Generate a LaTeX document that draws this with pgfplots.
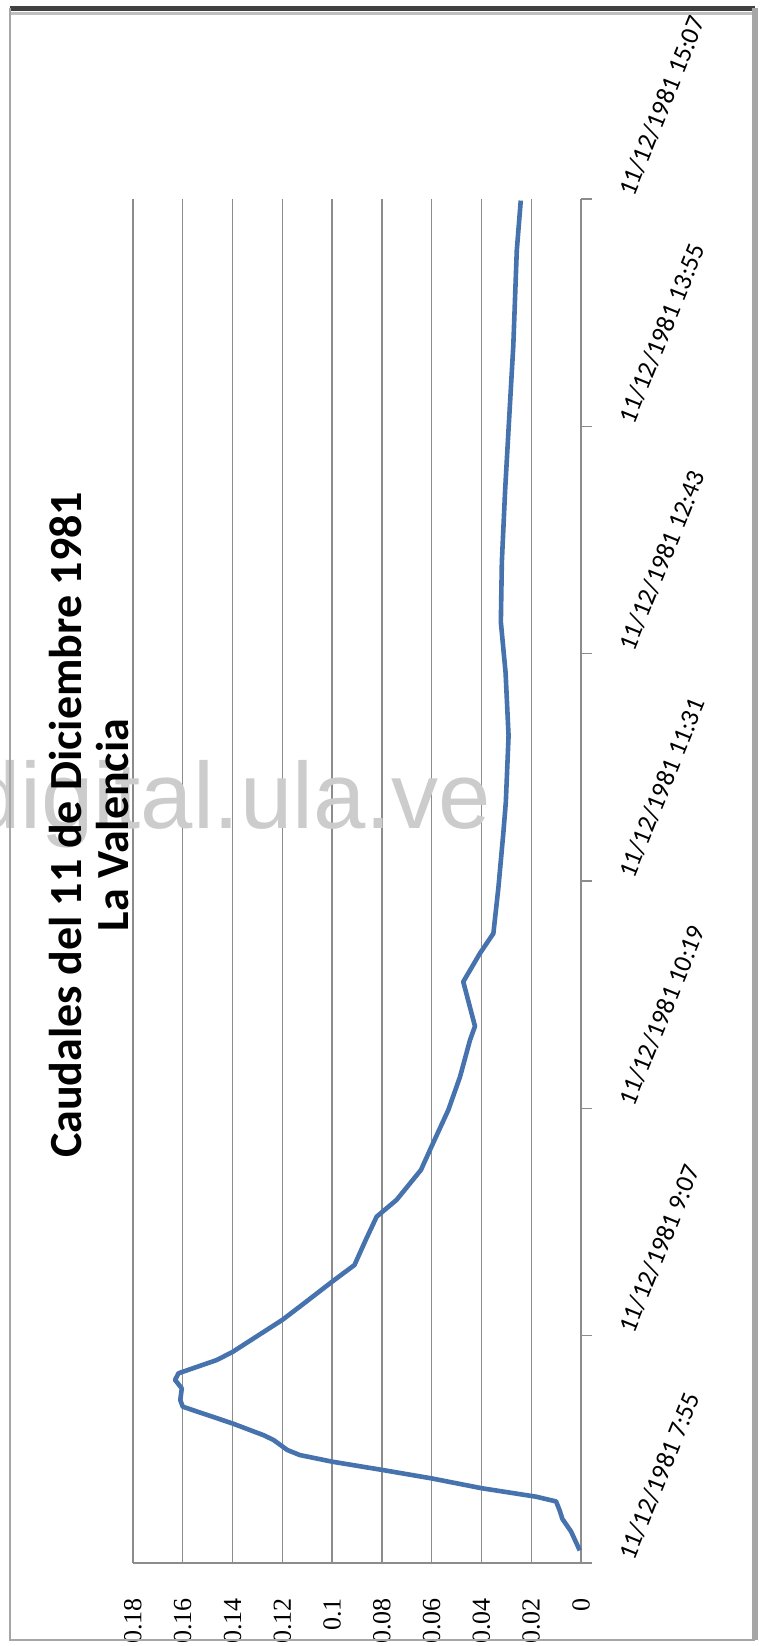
\documentclass[border=0pt]{standalone}
\usepackage{fontspec}
\setmainfont{Carlito}
\newfontfamily\tickserif{Liberation Serif}
\newfontfamily\wmfont{Liberation Sans}
\usepackage{pgfplots}
\pgfplotsset{compat=1.18}
\definecolor{excelblue}{HTML}{4672AE}
\definecolor{gridgray}{HTML}{8C8C8C}
\begin{document}
\begin{tikzpicture}
\useasboundingbox (0,0) rectangle (382.5pt,-823pt);
\fill[white] (0,0) rectangle (382.5pt,-823pt);
\begin{axis}[
 at={(178.5pt,-781.5pt)}, anchor=south,
 scale only axis, width=224pt, height=682pt,
 x dir=reverse,
 xmin=0, xmax=0.18, ymin=0, ymax=432,
 xtick={0,0.02,0.04,0.06,0.08,0.1,0.12,0.14,0.16,0.18},
 xticklabels={0,0.02,0.04,0.06,0.08,0.1,0.12,0.14,0.16,0.18},
 xmajorgrids, major grid style={gridgray, line width=0.7pt},
 ytick={0,72,144,216,288,360,432},
 yticklabels={11/12/1981 7:55, 11/12/1981 9:07, 11/12/1981 10:19, 11/12/1981 11:31, 11/12/1981 12:43, 11/12/1981 13:55, 11/12/1981 15:07},
 axis line style={draw=none},
 xtick style={draw=none},
 ytick style={gridgray, line width=0.7pt},
 ytick pos=right, yticklabel pos=right,
 tick align=outside, major tick length=5.5pt,
 xticklabel style={font=\tickserif\fontsize{13}{13}\selectfont, rotate=90, anchor=east, inner sep=0pt},
 xticklabel shift=12pt,
 yticklabel style={font=\fontsize{13}{13}\selectfont, yshift=2pt, rotate=68, anchor=west, inner sep=0pt},
 yticklabel shift=17pt,
 clip=false,
]
\draw[gridgray, line width=0.7pt] (axis cs:0.18,0) -- (axis cs:0,0) -- ++(4.5pt,0);
\draw[gridgray, line width=0.7pt] (axis cs:0,0) -- (axis cs:0,432);
\addplot[excelblue, line width=2.3pt, line join=round] table {
x y
0.0005 4
0.004 10
0.0075 14
0.0085 16.5
0.0100 19.5
0.018 21
0.040 23.7
0.060 26.8
0.080 29.5
0.100 32.1
0.113 34.2
0.118 35.8
0.1236 39
0.1276 40.5
0.140 44.2
0.160 49.5
0.161 51.6
0.1604 55.3
0.1631 58
0.1617 60.1
0.1463 64.3
0.1399 66.9
0.120 77
0.113 81.2
0.100 89.1
0.091 94.4
0.0865 102.3
0.0821 109.7
0.0741 115
0.0643 124.5
0.060 132
0.0533 143.5
0.0486 154
0.0446 165.6
0.0426 170
0.0473 184.1
0.0406 193.1
0.0352 199.4
0.0332 213.8
0.0312 231.2
0.0302 241
0.0291 262
0.0303 282
0.0322 298
0.0318 317
0.0305 339.5
0.0291 359.2
0.0272 385.5
0.0258 415.7
0.0242 431.5
};
\end{axis}
\node[anchor=base west, inner sep=0pt, text=black!20, font=\wmfont\fontsize{47}{47}\selectfont] at (-16pt,-414pt) {digital.ula.ve};
\node[rotate=90, align=center, inner sep=0pt, font=\bfseries\fontsize{23}{23.5}\selectfont] at (44.5pt,-412.5pt) {Caudales del 11 de Diciembre 1981\\La Valencia};
\draw[black!75, line width=2.5pt] (5pt,-4pt) -- (377.5pt,-4pt);
\draw[black!25, line width=1.5pt] (5pt,-6.5pt) -- (376pt,-6.5pt);
\draw[black!35, line width=3pt] (377.5pt,-4pt) -- (377.5pt,-820pt);
\draw[black!35, line width=0.6pt] (5pt,-4pt) -- (5pt,-820pt) -- (377.5pt,-820pt);
\end{tikzpicture}
\end{document}
